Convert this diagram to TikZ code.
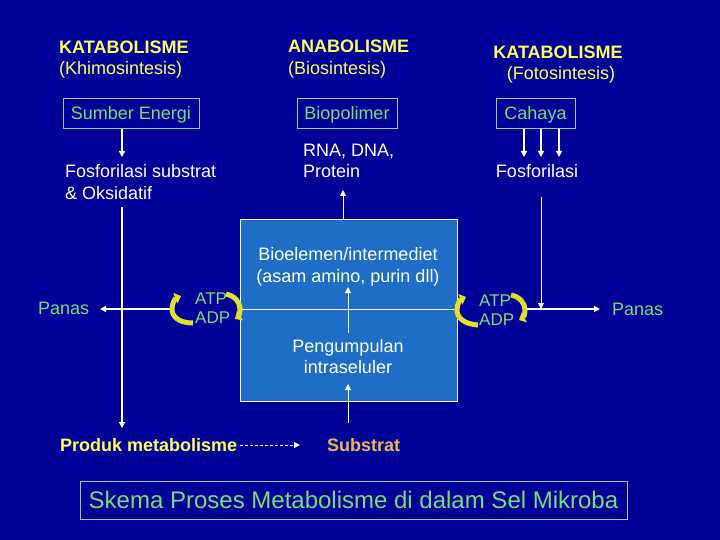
\documentclass[tikz,border=0pt]{standalone}
\usepackage{fontspec}
\setmainfont{Liberation Sans}
\usetikzlibrary{arrows.meta}
\definecolor{bg}{RGB}{0,0,153}
\definecolor{yel}{RGB}{255,255,90}
\definecolor{grn}{RGB}{110,225,120}
\definecolor{boxln}{RGB}{140,210,180}
\definecolor{org}{RGB}{240,180,80}
\definecolor{cellc}{RGB}{30,110,200}
\definecolor{cyc}{RGB}{225,225,40}
\begin{document}
\begin{tikzpicture}[x=1pt,y=-1pt,
  hd/.style={inner sep=0pt, text=yel, font=\fontsize{18}{22}\selectfont\bfseries},
  subt/.style={inner sep=0pt, text=yel, font=\fontsize{18}{22}\selectfont},
  wt/.style={inner sep=0pt, text=white, font=\fontsize{18}{22}\selectfont},
  gt/.style={inner sep=0pt, text=grn, font=\fontsize{18}{22}\selectfont},
  atxt/.style={inner sep=0pt, text=grn, font=\fontsize{17}{19}\selectfont},
  yb/.style={inner sep=0pt, text=yel, font=\fontsize{18}{22}\selectfont\bfseries},
  ob/.style={inner sep=0pt, text=org, font=\fontsize{18}{22}\selectfont\bfseries},
  ebox/.style={draw=boxln, line width=1pt, text=grn, inner sep=0pt, minimum height=30pt,
    text height=13pt, text depth=1pt, font=\fontsize{18}{22}\selectfont},
  cellbox/.style={draw=white, line width=0.8pt, fill=cellc, minimum width=217pt, minimum height=182pt, inner sep=0pt},
  titlebox/.style={draw=boxln, line width=1pt, text=grn, inner sep=0pt, minimum width=547pt, minimum height=38pt,
    text height=17pt, text depth=1pt, font=\fontsize{24}{28}\selectfont},
  arr/.style={draw=white, line width=1.3pt, -{Triangle[width=6pt,length=6pt]}},
  arrthin/.style={draw=white, line width=0.9pt, -{Triangle[width=6pt,length=6pt]}},
  cycarr/.style={draw=cyc, line width=5pt, -{Triangle[width=11pt,length=6pt]}}
]
\fill[bg] (0,0) rectangle (720,540);
\useasboundingbox (0,0) rectangle (720,540);

% headings
\node[hd, anchor=base west] (kat1) at (59,54) {KATABOLISME};
\node[subt, anchor=base west] (khimo) at (59,75) {(Khimosintesis)};
\node[hd, anchor=base west] (ana) at (288,53) {ANABOLISME};
\node[subt, anchor=base west] (bios) at (288,75) {(Biosintesis)};
\node[hd, anchor=base] (kat2) at (558,59) {KATABOLISME};
\node[subt, anchor=base] (foto) at (561,80) {(Fotosintesis)};

% boxes
\node[ebox, minimum width=136pt] (sumber) at (131,114) {Sumber Energi};
\node[ebox, minimum width=100pt] (biopol) at (347,114) {Biopolimer};
\node[ebox, minimum width=79pt] (cahaya) at (535.5,114) {Cahaya};

% cell
\node[cellbox] (cell) at (348.5,310) {};
\coordinate (lineL) at (240,309);
\coordinate (lineR) at (457,309);
\draw[white, line width=0.8pt] (lineL) -- (lineR);

% texts
\node[wt, anchor=base west] (fs1) at (65,178) {Fosforilasi substrat};
\node[wt, anchor=base west] (fs2) at (65,200) {\& Oksidatif};
\node[wt, anchor=base west] (rna1) at (303,157) {RNA, DNA,};
\node[wt, anchor=base west] (rna2) at (303,178) {Protein};
\node[wt, anchor=base] (fosr) at (537,178) {Fosforilasi};
\node[wt, anchor=base] (bio1) at (348,260) {Bioelemen/intermediet};
\node[wt, anchor=base] (bio2) at (348,282) {(asam amino, purin dll)};
\node[wt, anchor=base] (pen1) at (348,352) {Pengumpulan};
\node[wt, anchor=base] (pen2) at (348,373) {intraseluler};
\node[gt, anchor=base west] (panasL) at (38,314) {Panas};
\node[gt, anchor=base west] (panasR) at (612,315) {Panas};
\node[atxt, anchor=base west] (atpL) at (195,304) {ATP};
\node[atxt, anchor=base west] (adpL) at (195,323) {ADP};
\node[atxt, anchor=base west] (atpR) at (479,306) {ATP};
\node[atxt, anchor=base west] (adpR) at (479,325) {ADP};
\node[yb, anchor=base west] (produk) at (60,451) {Produk metabolisme};
\node[ob, anchor=base west] (substrat) at (327,451) {Substrat};
\node[titlebox] (title) at (353.5,500) {Skema Proses Metabolisme di dalam Sel Mikroba};

% connectors
\coordinate (a1) at (122,157);
\draw[arr] (sumber.south -| a1) -- (a1);
\coordinate (b1) at (122,207);
\coordinate (b2) at (122,428);
\draw[arr] (b1) -- (b2);
\coordinate (c1) at (343,190);
\draw[arrthin] (cell.north -| c1) -- (c1);
\coordinate (d0) at (348,333);
\coordinate (d1) at (348,287);
\draw[arrthin] (d0) -- (d1);
\coordinate (e0) at (348,423);
\coordinate (e1) at (348,384);
\draw[arrthin] (e0) -- (e1);
\coordinate (cA) at (524,157);
\coordinate (cB) at (541,157);
\coordinate (cC) at (559,157);
\draw[arr] (cahaya.south -| cA) -- (cA);
\draw[arr] (cahaya.south -| cB) -- (cB);
\draw[arr] (cahaya.south -| cC) -- (cC);
\coordinate (f0) at (541,197);
\coordinate (f1) at (541,309);
\draw[arrthin] (f0) -- (f1);
\coordinate (g0) at (525,309);
\coordinate (g1) at (600,309);
\draw[arr] (g0) -- (g1);
\coordinate (h0) at (172,309);
\coordinate (h1) at (100,309);
\draw[arr] (h0) -- (h1);
\coordinate (k1) at (300,445);
\draw[arr, line width=1pt, dash pattern=on 3pt off 2pt] (produk.east |- k1) ++(3,0) -- (k1);

% ATP/ADP cycles
\draw[cycarr] (193,323) .. controls (178,323) and (172,316) .. (172,309) .. controls (172,302) and (176,298) .. (181,296);
\draw[cycarr] (226,294) .. controls (235,296) and (240,302) .. (240,309) .. controls (240,314) and (238,317) .. (235,319);
\draw[cycarr] (478,325) .. controls (463,324) and (457,317) .. (457,310) .. controls (457,303) and (461,299) .. (466,297);
\draw[cycarr] (511,295) .. controls (520,297) and (525,303) .. (525,310) .. controls (525,315) and (523,318) .. (519,320);
\end{tikzpicture}
\end{document}
